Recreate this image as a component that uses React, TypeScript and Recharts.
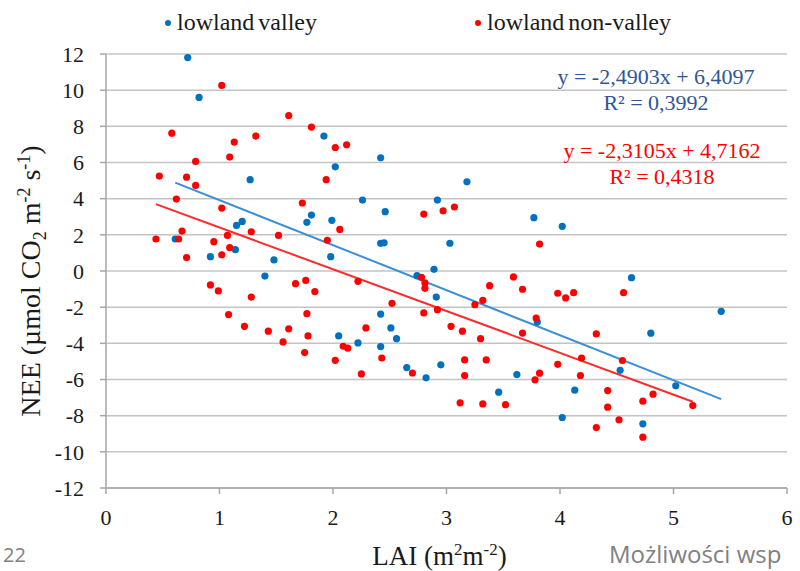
import { ScatterChart, Scatter, XAxis, YAxis, CartesianGrid, ReferenceLine, Label } from "recharts"

const SERIF = '"Liberation Serif", "Times New Roman", serif'

// axis ticks
const laiTicks = [0, 1, 2, 3, 4, 5, 6]
const neeTicks = [-12, -10, -8, -6, -4, -2, 0, 2, 4, 6, 8, 10, 12]

// lowland valley (blue)
const valleyLAI = [
  0.72, 0.82, 1.92, 2.02, 1.27, 1.81, 1.77, 1.99, 1.15, 1.2, 0.61, 1.14, 0.92, 1.48, 1.98, 1.4, 2.05,
  2.42, 3.18, 2.26, 2.92, 2.46, 3.77, 4.02, 2.42, 2.45, 3.03, 2.89, 2.74, 2.91, 2.42, 2.51, 2.22, 2.42,
  2.56, 2.65, 2.82, 2.95, 3.62, 3.46, 4.13, 4.02, 3.8, 4.63, 5.42, 4.8, 4.53, 5.02, 4.73,
]
const valleyNEE = [
  11.8, 9.6, 7.46, 5.76, 5.05, 3.09, 2.69, 2.8, 2.52, 2.74, 1.77, 1.18, 0.79, 0.61, 0.79, -0.28, -3.59,
  6.26, 4.93, 3.92, 3.92, 3.28, 2.95, 2.47, 1.53, 1.56, 1.53, 0.09, -0.26, -1.44, -2.38, -3.15, -3.98, -4.18,
  -3.74, -5.34, -5.91, -5.19, -5.73, -6.7, -6.59, -8.1, -2.82, -0.37, -2.23, -3.44, -5.49, -6.35, -8.45,
]

// lowland non-valley (red)
const nonValleyLAI = [
  1.02, 1.61, 1.81, 0.58, 1.32, 1.13, 2.02, 2.12, 1.09, 0.79, 0.47, 0.71, 0.79, 1.94, 0.62, 1.02, 1.73,
  0.67, 1.28, 1.52, 2.06, 0.44, 0.64, 1.07, 0.95, 1.95, 1.09, 1.02, 0.71,
  0.92, 0.99, 1.67, 1.76, 1.84, 1.28, 1.08, 1.77, 1.22, 1.43, 1.61, 1.78, 1.56, 1.75, 2.02, 2.09, 2.13,
  2.8, 2.97, 3.07, 3.82,
  2.78, 2.81, 2.81, 2.22, 2.52, 2.8, 2.92, 2.29, 2.43, 2.25, 2.7, 3.04, 3.14, 3.3, 3.16, 3.35, 3.16, 3.12,
  3.32, 3.52, 3.25, 3.32, 3.38, 3.59, 3.67, 3.79, 3.67, 3.98, 4.05, 4.12, 3.98, 3.78, 3.82,
  4.56, 4.32, 4.19, 4.55, 4.18, 4.42, 4.82, 4.73, 5.17, 4.42, 4.52, 4.32, 4.73,
]
const nonValleyNEE = [
  10.26, 8.6, 7.96, 7.62, 7.46, 7.13, 6.83, 6.98, 6.3, 6.06, 5.25, 5.19, 4.73, 5.05, 3.98, 3.48, 3.76,
  2.21, 2.17, 1.97, 2.3, 1.77, 1.77, 1.97, 1.62, 1.7, 1.29, 0.9, 0.74,
  -0.77, -1.1, -0.7, -0.52, -1.14, -1.44, -2.41, -2.36, -3.06, -3.33, -3.2, -3.59, -3.92, -4.51, -4.94, -4.16, -4.27,
  3.15, 3.33, 3.54, 1.49,
  -0.35, -0.66, -0.96, -0.57, -1.79, -2.32, -2.14, -3.15, -4.81, -5.69, -5.64, -3.06, -3.33, -3.74, -4.92, -4.92, -5.78, -7.29,
  -7.35, -7.39, -1.86, -1.62, -0.81, -0.33, -1.01, -2.6, -3.43, -1.23, -1.49, -1.2, -5.16, -6.02, -5.65,
  -1.2, -3.48, -4.81, -4.95, -5.78, -6.61, -6.81, -7.2, -7.44, -7.53, -8.23, -8.66, -9.19,
]

// linear fits shown on the chart
const valleyFit = { slope: -2.4903, intercept: 6.4097 }
const nonValleyFit = { slope: -2.3105, intercept: 4.7162 }

const BLUE = "#0070c0"
const RED = "#ff0000"

const toPoints = (xs: number[], ys: number[]) => xs.map((x, i) => ({ x, y: ys[i] }))

const fitSegment = (xs: number[], fit: { slope: number; intercept: number }) => {
  const lo = Math.min(...xs)
  const hi = Math.max(...xs)
  return [
    { x: lo, y: fit.slope * lo + fit.intercept },
    { x: hi, y: fit.slope * hi + fit.intercept },
  ]
}

const dot = (color: string) => (props: any) => <circle cx={props.cx} cy={props.cy} r={3.6} fill={color} />

const XTitle = (props: any) => {
  const vb = props.viewBox
  return (
    <text x={vb.x + vb.width / 2 - 7} y={565} textAnchor="middle" fontFamily={SERIF} fontSize={27} fill="#1a1a1a">
      LAI (m<tspan fontSize={17} dy={-10}>2</tspan>
      <tspan dy={10}>m</tspan>
      <tspan fontSize={17} dy={-10}>-2</tspan>
      <tspan dy={10}>)</tspan>
    </text>
  )
}

const YTitle = (props: any) => {
  const vb = props.viewBox
  const cy = vb.y + vb.height / 2 + 10
  return (
    <text x={40} y={cy} transform={`rotate(-90 40 ${cy})`} textAnchor="middle" fontFamily={SERIF} fontSize={28} fill="#1a1a1a">
      NEE (µmol CO<tspan fontSize={18} dy={6}>2</tspan>
      <tspan dy={-6}> m</tspan>
      <tspan fontSize={18} dy={-10}>-2</tspan>
      <tspan dy={10}> s</tspan>
      <tspan fontSize={18} dy={-10}>-1</tspan>
      <tspan dy={10}>)</tspan>
    </text>
  )
}

export default function App() {
  const valley = toPoints(valleyLAI, valleyNEE)
  const nonValley = toPoints(nonValleyLAI, nonValleyNEE)

  return (
    <div style={{ position: "absolute", left: 0, top: 0, width: 800, height: 571, background: "#fff", overflow: "hidden" }}>
      <ScatterChart width={800} height={571} margin={{ top: 54, right: 13, bottom: 33, left: 36 }}>
        <CartesianGrid vertical={false} stroke="#c4c4c4" strokeWidth={1.5} />
        <XAxis
          type="number"
          dataKey="x"
          domain={[0, 6]}
          ticks={laiTicks}
          interval={0}
          height={50}
          tickSize={6}
          tickMargin={15}
          stroke="#a6a6a6"
          strokeWidth={1.5}
          tick={{ fill: "#1a1a1a", fontSize: 22, fontFamily: SERIF }}
        >
          <Label content={XTitle} />
        </XAxis>
        <YAxis
          type="number"
          dataKey="y"
          domain={[-12, 12]}
          ticks={neeTicks}
          interval={0}
          width={70}
          tickSize={6}
          tickMargin={16}
          stroke="#a6a6a6"
          strokeWidth={1.5}
          tick={{ fill: "#1a1a1a", fontSize: 22, fontFamily: SERIF }}
        >
          <Label content={YTitle} />
        </YAxis>
        <ReferenceLine segment={fitSegment(valleyLAI, valleyFit)} stroke="#3a8fd8" strokeWidth={2} />
        <ReferenceLine segment={fitSegment(nonValleyLAI, nonValleyFit)} stroke="#ff2a2a" strokeWidth={2} />
        <Scatter name="lowland valley" data={valley} fill={BLUE} shape={dot(BLUE)} isAnimationActive={false} />
        <Scatter name="lowland non-valley" data={nonValley} fill={RED} shape={dot(RED)} isAnimationActive={false} />
      </ScatterChart>

      <svg width={800} height={571} style={{ position: "absolute", left: 0, top: 0, pointerEvents: "none" }}>
        {/* legend */}
        <circle cx={168} cy={23} r={3} fill={BLUE} />
        <text x={177} y={30} fontFamily={SERIF} fontSize={24} wordSpacing={-2} fill="#1a1a1a">lowland valley</text>
        <circle cx={478} cy={23} r={3} fill={RED} />
        <text x={487} y={30} fontFamily={SERIF} fontSize={24} wordSpacing={-2} fill="#1a1a1a">lowland non-valley</text>

        {/* fit equations */}
        <text x={656} y={84} textAnchor="middle" fontFamily={SERIF} fontSize={22} fill="#2f5597">y = -2,4903x + 6,4097</text>
        <text x={656} y={110} textAnchor="middle" fontFamily={SERIF} fontSize={22} fill="#2f5597">R² = 0,3992</text>
        <text x={662} y={158} textAnchor="middle" fontFamily={SERIF} fontSize={22} fill={RED}>y = -2,3105x + 4,7162</text>
        <text x={662} y={184} textAnchor="middle" fontFamily={SERIF} fontSize={22} fill={RED}>R² = 0,4318</text>

        {/* slide footer */}
        <text x={609} y={563} fontFamily='"Open Sans", sans-serif' fontSize={24} fill="#808080">Możliwości wsp</text>
        <text x={3} y={562} fontFamily='"Open Sans", sans-serif' fontSize={20} fill="#808080">22</text>
      </svg>
    </div>
  )
}
